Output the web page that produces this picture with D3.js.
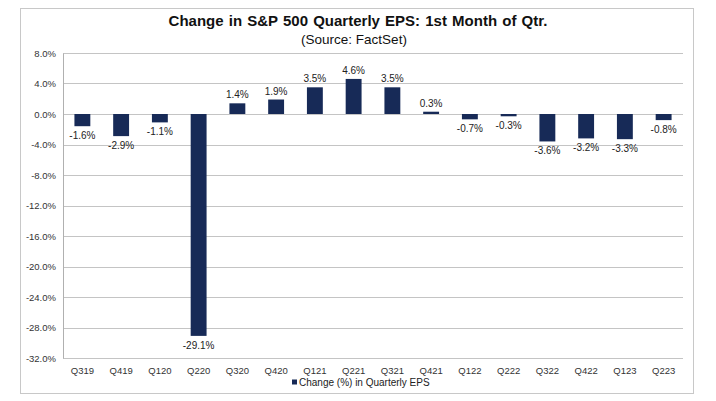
<!DOCTYPE html>
<html>
<head>
<meta charset="utf-8">
<script src="https://cdn.jsdelivr.net/npm/d3@7"></script>
<style>
  body { margin: 0; background: #fff; }
  svg { font-family: "Liberation Sans", Arial, sans-serif; }
</style>
</head>
<body>
<div id="chart"></div>
<script>
var quarters = ["Q319","Q419","Q120","Q220","Q320","Q420","Q121","Q221","Q321","Q421","Q122","Q222","Q322","Q422","Q123","Q223"];
var epsChange = [-1.6,-2.9,-1.1,-29.1,1.4,1.9,3.5,4.6,3.5,0.3,-0.7,-0.3,-3.6,-3.2,-3.3,-0.8];
var yTicks = [8,4,0,-4,-8,-12,-16,-20,-24,-28,-32];

var W = 716, H = 401;
var margin = {top: 53, right: 33, bottom: 43, left: 63};
var width = W - margin.left - margin.right;
var height = H - margin.top - margin.bottom;

var svg = d3.select("#chart").append("svg")
  .attr("width", W)
  .attr("height", H);

// outer frame
svg.append("rect")
  .attr("x", 20.5).attr("y", 8.5)
  .attr("width", 673).attr("height", 385)
  .attr("fill", "#fff")
  .attr("stroke", "#c8c8c8");

svg.append("text")
  .attr("x", 358).attr("y", 26)
  .attr("text-anchor", "middle")
  .style("font-size", "15px").style("font-weight", "bold")
  .style("word-spacing", "1px")
  .attr("fill", "#111")
  .text("Change in S&P 500 Quarterly EPS: 1st Month of Qtr.");

svg.append("text")
  .attr("x", 354).attr("y", 44)
  .attr("text-anchor", "middle")
  .style("font-size", "13.5px")
  .attr("fill", "#111")
  .text("(Source: FactSet)");

var g = svg.append("g")
  .attr("transform", "translate(" + margin.left + "," + margin.top + ")");

var x = d3.scaleBand()
  .domain(quarters)
  .range([0, width])
  .paddingInner(0.59)
  .paddingOuter(0.295);

var y = d3.scaleLinear()
  .domain([-32, 8])
  .range([height, 0]);

// gridlines
g.selectAll(".grid")
  .data(yTicks)
  .enter()
  .append("line")
  .attr("class", "grid")
  .attr("x1", 0).attr("x2", width)
  .attr("y1", function(d) { return Math.round(y(d)) + 0.5; })
  .attr("y2", function(d) { return Math.round(y(d)) + 0.5; })
  .attr("stroke", "#c4c4c4");

var yAxis = g.append("g")
  .attr("class", "y axis")
  .call(d3.axisLeft(y)
    .tickValues(yTicks)
    .tickSize(0)
    .tickPadding(7)
    .tickFormat(function(d) { return d.toFixed(1) + "%"; }));
yAxis.select(".domain").attr("stroke", "#b0b0b0");
yAxis.selectAll("text").style("font-size", "9.5px").attr("fill", "#333");

var xAxis = g.append("g")
  .attr("class", "x axis")
  .attr("transform", "translate(0," + height + ")")
  .call(d3.axisBottom(x).tickSize(0).tickPadding(9));
xAxis.select(".domain").remove();
xAxis.selectAll("text").style("font-size", "9.5px").attr("fill", "#333");

g.selectAll(".bar")
  .data(epsChange)
  .enter()
  .append("rect")
  .attr("class", "bar")
  .attr("x", function(d, i) { return x(quarters[i]); })
  .attr("width", x.bandwidth())
  .attr("y", function(d) { return y(Math.max(0, d)); })
  .attr("height", function(d) { return Math.abs(y(d) - y(0)); })
  .attr("fill", "#172a57");

g.selectAll(".lbl")
  .data(epsChange)
  .enter()
  .append("text")
  .attr("class", "lbl")
  .attr("x", function(d, i) { return x(quarters[i]) + x.bandwidth() / 2; })
  .attr("y", function(d) { return d >= 0 ? y(d) - 5 : y(d) + 13; })
  .attr("text-anchor", "middle")
  .style("font-size", "10px")
  .attr("fill", "#222")
  .text(function(d) { return d.toFixed(1) + "%"; });

// legend
var legend = svg.append("g").attr("transform", "translate(292,386)");
legend.append("rect")
  .attr("x", 0).attr("y", -6.5)
  .attr("width", 5).attr("height", 5)
  .attr("fill", "#172a57");
legend.append("text")
  .attr("x", 7).attr("y", 0)
  .style("font-size", "10px")
  .attr("fill", "#222")
  .text("Change (%) in Quarterly EPS");
</script>
</body>
</html>
